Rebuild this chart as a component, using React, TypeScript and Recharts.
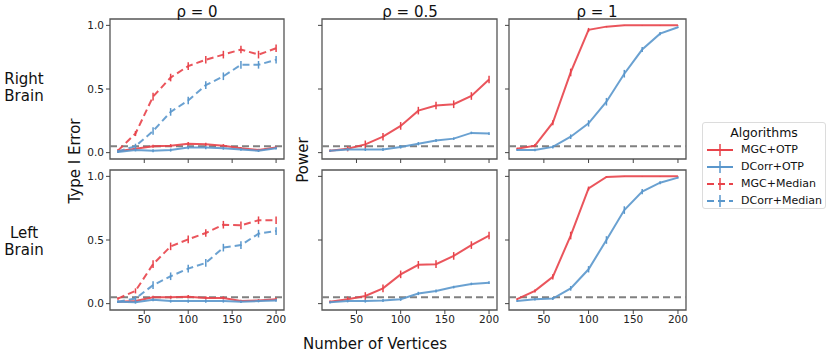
import React from 'react';
import { LineChart, Line, XAxis, YAxis, ReferenceLine, ReferenceArea, ErrorBar } from 'recharts';

const VERTICES = [20, 40, 60, 80, 100, 120, 140, 160, 180, 200];
const X_TICKS = [50, 100, 150, 200];
const Y_TICKS = [0, 0.5, 1];
const ALPHA_LEVEL = 0.05;

// Right brain
const rightRho0MgcOtp = [0.01, 0.03, 0.05, 0.055, 0.07, 0.065, 0.055, 0.035, 0.02, 0.04];
const rightRho0DcorrOtp = [0.005, 0.02, 0.015, 0.02, 0.04, 0.04, 0.035, 0.025, 0.015, 0.035];
const rightRho0MgcMedian = [0.016, 0.15, 0.44, 0.59, 0.68, 0.73, 0.77, 0.81, 0.77, 0.82];
const rightRho0DcorrMedian = [0.01, 0.05, 0.17, 0.32, 0.41, 0.53, 0.6, 0.69, 0.69, 0.73];
const rightRho05MgcOtp = [0.015, 0.03, 0.065, 0.125, 0.21, 0.33, 0.37, 0.38, 0.445, 0.575];
const rightRho05DcorrOtp = [0.015, 0.025, 0.025, 0.025, 0.045, 0.07, 0.095, 0.11, 0.155, 0.15];
const rightRho1MgcOtp = [0.03, 0.055, 0.235, 0.63, 0.965, 0.99, 1.0, 1.0, 1.0, 1.0];
const rightRho1DcorrOtp = [0.02, 0.02, 0.045, 0.125, 0.23, 0.4, 0.62, 0.81, 0.935, 0.985];

// Left brain
const leftRho0MgcOtp = [0.015, 0.02, 0.05, 0.05, 0.055, 0.045, 0.045, 0.02, 0.025, 0.035];
const leftRho0DcorrOtp = [0.015, 0.01, 0.03, 0.02, 0.02, 0.02, 0.02, 0.015, 0.02, 0.025];
const leftRho0MgcMedian = [0.04, 0.1, 0.31, 0.45, 0.505, 0.555, 0.62, 0.615, 0.655, 0.655];
const leftRho0DcorrMedian = [0.015, 0.04, 0.145, 0.215, 0.275, 0.32, 0.44, 0.46, 0.55, 0.57];
const leftRho05MgcOtp = [0.015, 0.035, 0.06, 0.12, 0.23, 0.305, 0.31, 0.375, 0.46, 0.535];
const leftRho05DcorrOtp = [0.01, 0.02, 0.02, 0.025, 0.035, 0.08, 0.1, 0.13, 0.155, 0.165];
const leftRho1MgcOtp = [0.035, 0.1, 0.21, 0.535, 0.905, 0.995, 1.0, 1.0, 1.0, 1.0];
const leftRho1DcorrOtp = [0.02, 0.035, 0.04, 0.12, 0.27, 0.5, 0.735, 0.88, 0.95, 0.99];

// error bar half-widths
const errSmall = [0.008, 0.01, 0.012, 0.012, 0.013, 0.013, 0.012, 0.01, 0.01, 0.011];
const errMid = [0.01, 0.02, 0.03, 0.03, 0.03, 0.03, 0.03, 0.03, 0.03, 0.03];
const errRamp = [0.008, 0.012, 0.02, 0.03, 0.015, 0.005, 0.002, 0.002, 0.002, 0.002];
const errRampSlow = [0.008, 0.01, 0.012, 0.018, 0.025, 0.03, 0.03, 0.02, 0.012, 0.006];

const RED = '#e8434a';
const BLUE = '#5a97cc';
const FONT = '"DejaVu Sans", sans-serif';

type Series = { name: string; values: number[]; err: number[]; color: string; dashed: boolean };

const makeRows = (series: Series[]) =>
  VERTICES.map((x, i) => {
    const row: Record<string, number> = { x };
    series.forEach((s, k) => {
      row[`s${k}`] = s.values[i];
      row[`e${k}`] = s.err[i];
    });
    return row;
  });

const YW = 30;
const XH = 20;
const M = 6;

const Panel: React.FC<{
  left: number;
  top: number;
  w: number;
  h: number;
  series: Series[];
  yLabels: boolean;
  xLabels: boolean;
}> = ({ left, top, w, h, series, yLabels, xLabels }) => {
  const data = makeRows(series);
  return (
    <div style={{ position: 'absolute', left: left - YW, top: top - M }}>
      <LineChart width={YW + w + M} height={M + h + XH} data={data} margin={{ top: M, right: M, bottom: 0, left: 0 }}>
        <XAxis
          dataKey="x"
          type="number"
          domain={[11, 209]}
          ticks={X_TICKS}
          axisLine={false}
          tickLine={{ stroke: '#444' }}
          tickSize={4}
          tick={{ fontSize: 10.5, fill: '#222', fontFamily: FONT }}
          tickFormatter={(v) => (xLabels ? String(v) : '')}
          height={XH}
        />
        <YAxis
          type="number"
          domain={[-0.05, 1.05]}
          ticks={Y_TICKS}
          axisLine={false}
          tickLine={{ stroke: '#444' }}
          tickSize={4}
          tick={{ fontSize: 10.5, fill: '#222', fontFamily: FONT }}
          tickFormatter={(v) => (yLabels ? Number(v).toFixed(1) : '')}
          width={YW}
        />
        <ReferenceLine y={ALPHA_LEVEL} stroke="#808080" strokeWidth={2} strokeDasharray="7 4" />
        {series.map((s, k) => (
          <Line
            key={s.name}
            dataKey={`s${k}`}
            type="linear"
            stroke={s.color}
            strokeWidth={2}
            strokeOpacity={0.9}
            strokeDasharray={s.dashed ? '7 4' : undefined}
            dot={false}
            isAnimationActive={false}
          >
            <ErrorBar dataKey={`e${k}`} direction="y" width={0} stroke={s.color} strokeWidth={1.5} />
          </Line>
        ))}
        <ReferenceArea x1={11} x2={209} y1={-0.05} y2={1.05} fill="none" stroke="#555" strokeWidth={1.3} />
      </LineChart>
    </div>
  );
};

const otp = (mgc: number[], dcorr: number[], eM: number[], eD: number[]): Series[] => [
  { name: 'MGC+OTP', values: mgc, err: eM, color: RED, dashed: false },
  { name: 'DCorr+OTP', values: dcorr, err: eD, color: BLUE, dashed: false },
];

const LegendGlyph: React.FC<{ color: string; dashed: boolean }> = ({ color, dashed }) => (
  <svg width={28} height={12} style={{ marginRight: 7 }}>
    <line x1={1} y1={6} x2={27} y2={6} stroke={color} strokeWidth={2} strokeDasharray={dashed ? '7 4' : undefined} />
    <line x1={14} y1={0} x2={14} y2={12} stroke={color} strokeWidth={1.5} />
  </svg>
);

export default function App() {
  const cols = [
    { left: 110, w: 174 },
    { left: 322, w: 175 },
    { left: 509, w: 177 },
  ];
  const rows = [{ top: 19 }, { top: 170 }];
  const h = 140;

  const panels: Series[][][] = [
    [
      [
        ...otp(rightRho0MgcOtp, rightRho0DcorrOtp, errSmall, errSmall),
        { name: 'MGC+Median', values: rightRho0MgcMedian, err: errMid, color: RED, dashed: true },
        { name: 'DCorr+Median', values: rightRho0DcorrMedian, err: errMid, color: BLUE, dashed: true },
      ],
      otp(rightRho05MgcOtp, rightRho05DcorrOtp, errMid, errSmall),
      otp(rightRho1MgcOtp, rightRho1DcorrOtp, errRamp, errRampSlow),
    ],
    [
      [
        ...otp(leftRho0MgcOtp, leftRho0DcorrOtp, errSmall, errSmall),
        { name: 'MGC+Median', values: leftRho0MgcMedian, err: errMid, color: RED, dashed: true },
        { name: 'DCorr+Median', values: leftRho0DcorrMedian, err: errMid, color: BLUE, dashed: true },
      ],
      otp(leftRho05MgcOtp, leftRho05DcorrOtp, errMid, errSmall),
      otp(leftRho1MgcOtp, leftRho1DcorrOtp, errRamp, errRampSlow),
    ],
  ];

  const legendItems = [
    { name: 'MGC+OTP', color: RED, dashed: false },
    { name: 'DCorr+OTP', color: BLUE, dashed: false },
    { name: 'MGC+Median', color: RED, dashed: true },
    { name: 'DCorr+Median', color: BLUE, dashed: true },
  ];

  const label = { fontFamily: FONT, fontSize: 15, fill: '#111' };

  return (
    <div style={{ position: 'absolute', left: 0, top: 0, width: 831, height: 357, background: '#fff' }}>
      {rows.map((r, ri) =>
        cols.map((c, ci) => (
          <Panel
            key={`${ri}-${ci}`}
            left={c.left}
            top={r.top}
            w={c.w}
            h={h}
            series={panels[ri][ci]}
            yLabels={ci === 0}
            xLabels={ri === 1}
          />
        ))
      )}

      <svg
        width={831}
        height={357}
        style={{ position: 'absolute', left: 0, top: 0, zIndex: 10, pointerEvents: 'none' }}
      >
        <text x={197} y={17} textAnchor="middle" {...label}>ρ = 0</text>
        <text x={410} y={17} textAnchor="middle" {...label}>ρ = 0.5</text>
        <text x={597} y={17} textAnchor="middle" {...label}>ρ = 1</text>

        <text x={24} y={84} textAnchor="middle" {...label}>Right</text>
        <text x={24} y={101} textAnchor="middle" {...label}>Brain</text>
        <text x={24} y={238} textAnchor="middle" {...label}>Left</text>
        <text x={24} y={255} textAnchor="middle" {...label}>Brain</text>

        <text x={80} y={161} textAnchor="middle" transform="rotate(-90 80 161)" {...label}>Type I Error</text>
        <text x={308} y={160} textAnchor="middle" transform="rotate(-90 308 160)" {...label}>Power</text>
        <text x={375} y={349} textAnchor="middle" {...label}>Number of Vertices</text>
      </svg>

      <div
        style={{
          position: 'absolute',
          left: 702,
          top: 122,
          width: 124,
          height: 87,
          border: '1px solid #dcdcdc',
          borderRadius: 3,
          fontFamily: FONT,
          color: '#111',
          boxSizing: 'border-box',
        }}
      >
        <div style={{ textAlign: 'center', fontSize: 12.5, marginTop: 2, lineHeight: '16px' }}>Algorithms</div>
        {legendItems.map((it) => (
          <div key={it.name} style={{ display: 'flex', alignItems: 'center', height: 17, paddingLeft: 3, fontSize: 11 }}>
            <LegendGlyph color={it.color} dashed={it.dashed} />
            {it.name}
          </div>
        ))}
      </div>
    </div>
  );
}
